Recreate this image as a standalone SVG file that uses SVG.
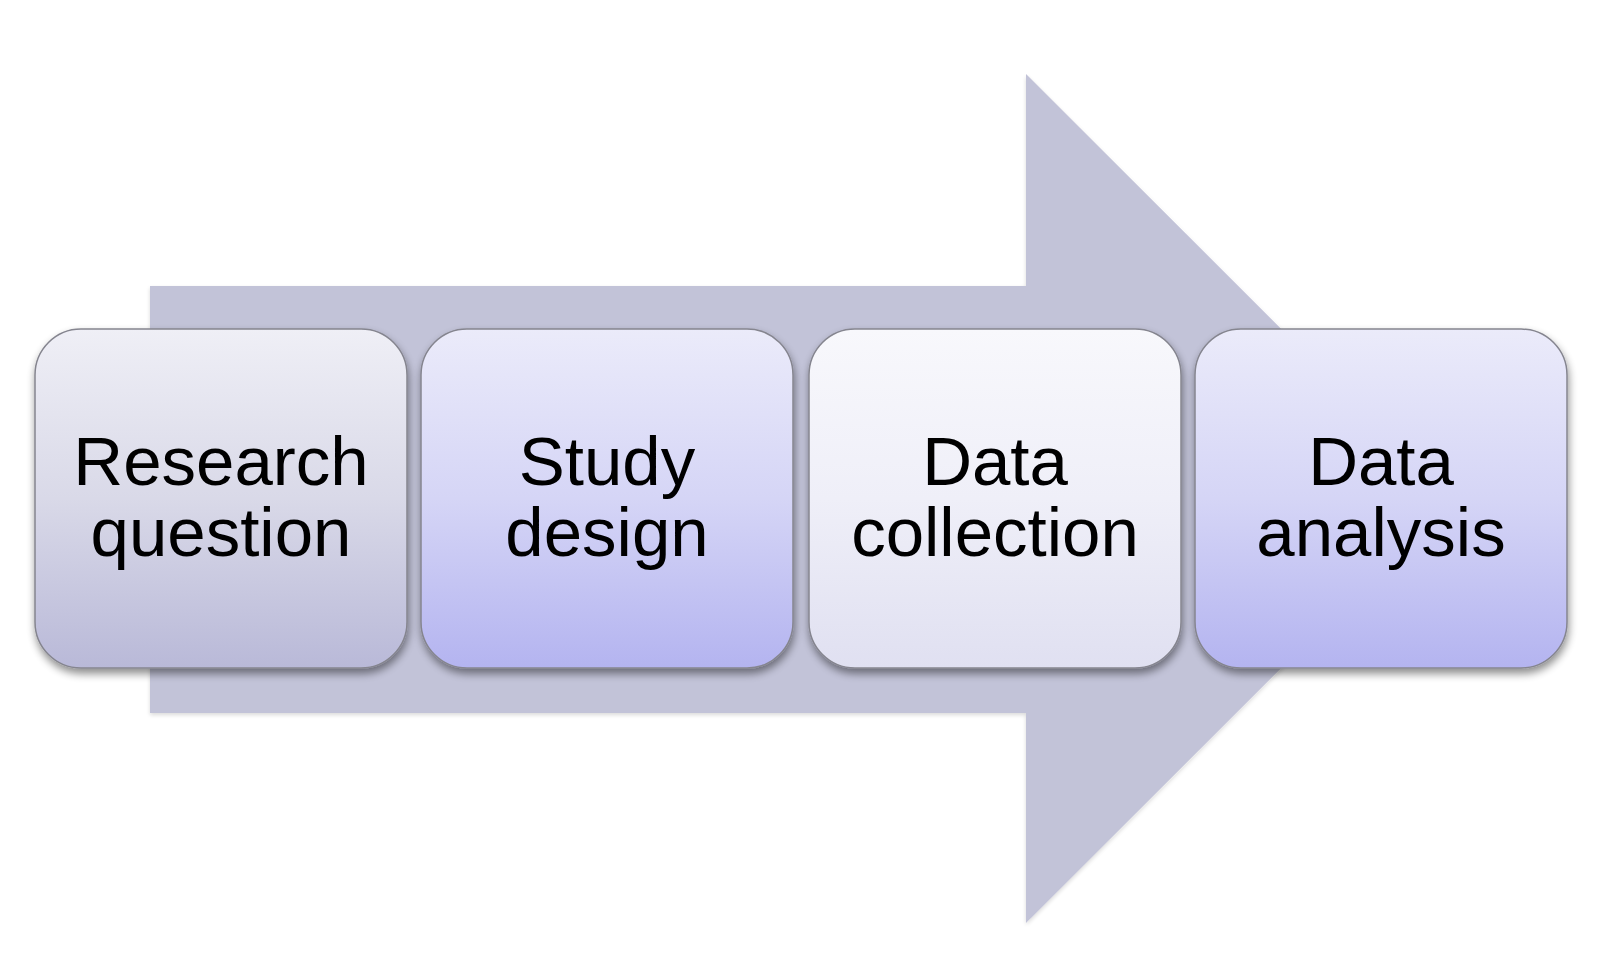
<svg xmlns="http://www.w3.org/2000/svg" width="1616" height="972" viewBox="0 0 1616 972">
  <defs>
    <linearGradient id="g1" x1="0" y1="0" x2="0" y2="1">
      <stop offset="0" stop-color="#efeff6"/>
      <stop offset="0.5" stop-color="#d9d9e8"/>
      <stop offset="1" stop-color="#b9b9d8"/>
    </linearGradient>
    <linearGradient id="g2" x1="0" y1="0" x2="0" y2="1">
      <stop offset="0" stop-color="#ebebfa"/>
      <stop offset="0.5" stop-color="#d5d5f6"/>
      <stop offset="1" stop-color="#b4b4f0"/>
    </linearGradient>
    <linearGradient id="g3" x1="0" y1="0" x2="0" y2="1">
      <stop offset="0" stop-color="#f8f8fc"/>
      <stop offset="0.5" stop-color="#efeff8"/>
      <stop offset="1" stop-color="#e0e0f1"/>
    </linearGradient>
    <filter id="sh" x="-10%" y="-10%" width="120%" height="125%">
      <feGaussianBlur in="SourceAlpha" stdDeviation="4"/>
      <feOffset dx="1" dy="5" result="b"/>
      <feComponentTransfer><feFuncA type="linear" slope="0.45"/></feComponentTransfer>
      <feMerge><feMergeNode/><feMergeNode in="SourceGraphic"/></feMerge>
    </filter>
    <filter id="ash" x="-5%" y="-5%" width="110%" height="110%">
      <feGaussianBlur in="SourceAlpha" stdDeviation="2"/>
      <feOffset dx="0" dy="2" result="b"/>
      <feComponentTransfer><feFuncA type="linear" slope="0.15"/></feComponentTransfer>
      <feMerge><feMergeNode/><feMergeNode in="SourceGraphic"/></feMerge>
    </filter>
  </defs>
  <style>
    .box { stroke: #85858f; stroke-width: 1.5; }
    .lbl { font-family: "Liberation Sans", Arial, sans-serif; font-size: 69px; fill: #000; text-anchor: middle; }
  </style>
  <rect width="1616" height="972" fill="#ffffff"/>
  <g id="arrow" filter="url(#ash)">
    <polygon points="150,286 1026,286 1026,74 1451,498.5 1026,923 1026,713 150,713" fill="#c2c3d8"/>
  </g>
  <g id="connectors"></g>
  <g id="node-research" filter="url(#sh)">
    <rect class="box" x="35" y="329" width="372" height="339" rx="46" ry="46" fill="url(#g1)"/>
    <text class="lbl" x="221" y="485">Research</text>
    <text class="lbl" x="221" y="556">question</text>
  </g>
  <g id="node-study" filter="url(#sh)">
    <rect class="box" x="421" y="329" width="372" height="339" rx="46" ry="46" fill="url(#g2)"/>
    <text class="lbl" x="607" y="485">Study</text>
    <text class="lbl" x="607" y="556">design</text>
  </g>
  <g id="node-collection" filter="url(#sh)">
    <rect class="box" x="809" y="329" width="372" height="339" rx="46" ry="46" fill="url(#g3)"/>
    <text class="lbl" x="995" y="485">Data</text>
    <text class="lbl" x="995" y="556">collection</text>
  </g>
  <g id="node-analysis" filter="url(#sh)">
    <rect class="box" x="1195" y="329" width="372" height="339" rx="46" ry="46" fill="url(#g2)"/>
    <text class="lbl" x="1381" y="485">Data</text>
    <text class="lbl" x="1381" y="556">analysis</text>
  </g>
</svg>
